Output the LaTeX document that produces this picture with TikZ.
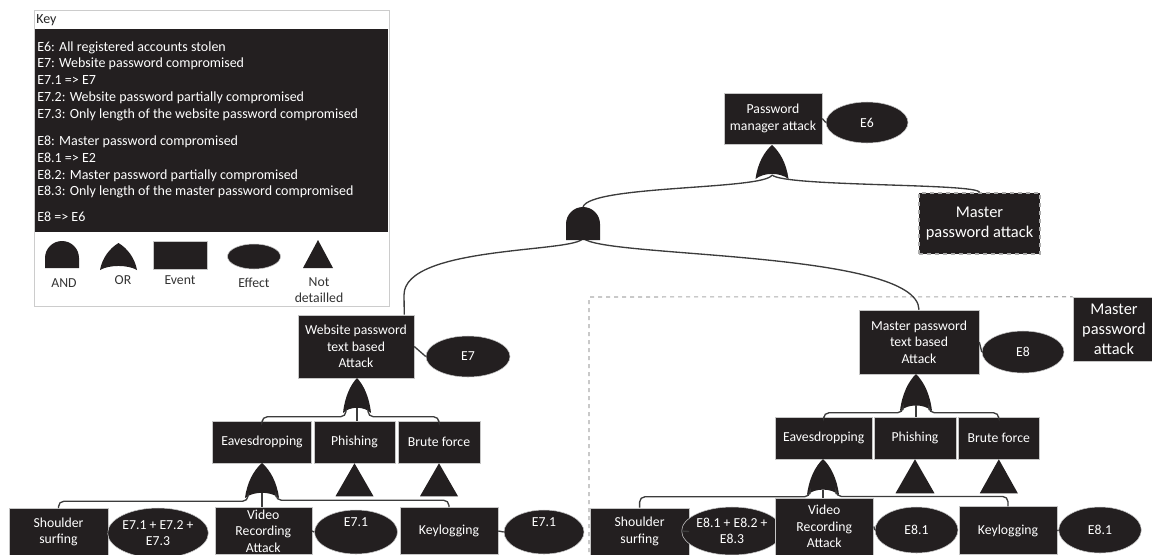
\documentclass[tikz,border=0pt]{standalone}
\usepackage{fontspec}
\setmainfont{Carlito}
\usetikzlibrary{calc,shapes.geometric}
\definecolor{boxblack}{RGB}{35,31,32}
\definecolor{linegray}{RGB}{60,60,60}
\tikzset{
 wh/.style 2 args={minimum width=#1*0.75pt, minimum height=#2*0.75pt},
 ev/.style={rectangle, fill=boxblack, draw=gray!45, line width=0.4pt, text=white, align=center, inner sep=1pt, font=\fontsize{10.3}{12.5}\selectfont},
 eff/.style={ellipse, fill=boxblack, draw=gray!45, line width=0.4pt, text=white, align=center, inner sep=0pt, font=\fontsize{10.3}{12.5}\selectfont},
 efftext/.style={text=white, inner sep=0pt, align=center, font=\fontsize{10.3}{12.5}\selectfont},
 conn/.style={draw=linegray, line width=1pt},
 bigtxt/.style={font=\fontsize{12.3}{15}\selectfont},
 keytxt/.style={text=white, anchor=base west, inner sep=0pt, font=\fontsize{10.5}{12.5}\selectfont},
 keylab/.style={text=black!80, inner sep=0pt, align=center, font=\fontsize{10.3}{12}\selectfont},
 regiondash/.style={draw=gray!65, dashed, line width=0.8pt},
}
\newcommand{\AndGate}[5]{%
 \pgfmathsetmacro\gtL{#2-#4/2}\pgfmathsetmacro\gtR{#2+#4/2}\pgfmathsetmacro\gtB{#3+#5}%
 \pgfmathsetmacro\gtM{#3+#4/2}\pgfmathsetmacro\gtK{#4/2*0.552}%
 \fill[boxblack] (\gtL,\gtB) -- (\gtL,\gtM) .. controls (\gtL,{\gtM-\gtK}) and ({#2-\gtK},#3) .. (#2,#3)
   .. controls ({#2+\gtK},#3) and (\gtR,{\gtM-\gtK}) .. (\gtR,\gtM) -- (\gtR,\gtB) -- cycle;
 \coordinate (#1-top) at (#2,#3); \coordinate (#1-bot) at (#2,\gtB);}
\newcommand{\OrGate}[5]{%
 \pgfmathsetmacro\gtL{#2-#4/2}\pgfmathsetmacro\gtR{#2+#4/2}\pgfmathsetmacro\gtB{#3+#5}%
 \fill[boxblack] (#2,#3) .. controls ({#2+0.24*#4},{#3+0.2*#5}) and ({#2+0.44*#4},{#3+0.55*#5}) .. (\gtR,\gtB)
   .. controls ({#2+0.25*#4},{#3+0.8*#5}) and ({#2-0.25*#4},{#3+0.8*#5}) .. (\gtL,\gtB)
   .. controls ({#2-0.44*#4},{#3+0.55*#5}) and ({#2-0.24*#4},{#3+0.2*#5}) .. cycle;
 \coordinate (#1-top) at (#2,#3); \coordinate (#1-bot) at (#2,{#3+0.85*#5});
 \coordinate (#1-bl) at ({\gtL+3},{\gtB-1}); \coordinate (#1-br) at ({\gtR-3},{\gtB-1});}
\begin{document}
\begin{tikzpicture}[x=0.75pt,y=-0.75pt]
\useasboundingbox (0,0) rectangle (1152,554);
\clip (0,0) rectangle (1152,554);
% ---------------- Key ----------------
\node[draw=gray!40, fill=white, line width=0.6pt, wh={355}{296}, inner sep=0] (keybox) at (211.5,158) {};
\node[fill=boxblack, wh={353}{203}, inner sep=0] (keyblack) at (211.5,130.5) {};
\node[keytxt, text=black!85] (keyhead) at (36,23.5) {Key};
\node[keytxt] (k1) at (37,51.3) {E6: All registered accounts stolen};
\node[keytxt] (k2) at (37,67.6) {E7: Website password compromised};
\node[keytxt] (k3) at (37,84.3) {E7.1 => E7};
\node[keytxt] (k4) at (37,101.3) {E7.2: Website password partially compromised};
\node[keytxt] (k5) at (37,118.3) {E7.3: Only length of the website password compromised};
\node[keytxt] (k6) at (37,145.3) {E8: Master password compromised};
\node[keytxt] (k7) at (37,162.3) {E8.1 => E2};
\node[keytxt] (k8) at (37,179.3) {E8.2: Master password partially compromised};
\node[keytxt] (k9) at (37,195.3) {E8.3: Only length of the master password compromised};
\node[keytxt] (k10) at (37,221.3) {E8 => E6};
\AndGate{kand}{62}{241}{34}{27}
\OrGate{kor}{118.5}{243}{37}{27}
\node[ev, wh={54}{28}] (kevent) at (180,255) {};
\node[eff, wh={53}{25}] (keffect) at (254,256.5) {};
\fill[boxblack] (303,268) -- (333,268) -- (318,240) -- cycle;
\node[keylab] (lAND) at (64,283) {AND};
\node[keylab] (lOR) at (123,280) {OR};
\node[keylab] (lEvent) at (180,280) {Event};
\node[keylab] (lEffect) at (254,283) {Effect};
\node[keylab] (lNot) at (319,290) {Not\\detailled};
% ---------------- Top ----------------
\node[ev, wh={98}{51}] (pma) at (773,118.5) {Password\\manager attack};
\node[eff, wh={82}{41}] (e6) at (867,122.5) {E6};
\node[ev, regiondash, fill=boxblack, wh={121}{61}, bigtxt] (mpa) at (979.5,223.5) {Master\\password attack};
\node[ev, wh={116}{63}] (wp) at (356,346.5) {Website password\\text based\\Attack};
\node[eff, wh={84}{41}] (e7) at (468,356.5) {E7};
\node[ev, wh={120}{64}] (mp) at (919,342) {Master password\\text based\\Attack};
\node[eff, wh={82}{42}] (e8) at (1023,352) {E8};
\node[ev, wh={82}{64}, bigtxt] (mpa2) at (1114,329) {Master\\password\\attack};
\draw[regiondash] (589,560) -- (589,297) -- (mpa2.north west);
\draw[conn] (pma.east) -- (e6.west);
\draw[conn] (wp.east) -- (e7.west);
\draw[conn] (mp.east) -- (e8.west);
\coordinate (g0b) at (772,175);
\coordinate (g1t) at (583,207);
\coordinate (g1b) at (583,238);
\draw[conn] (g0b) .. controls (765,190) and (590,185) .. (g1t);
\draw[conn] (g0b) .. controls (785,187) and (979.5,183) .. (mpa.north);
\coordinate (wpin) at ($(wp.north east)+(-10,0)$);
\draw[conn] (g1b) .. controls (578,253) and (404,245) .. (404,295) -- (wpin);
\draw[conn] (g1b) .. controls (600,258) and (918,250) .. (mp.north);
\OrGate{g0}{772}{145}{33}{34}
\AndGate{g1}{583}{207}{34}{33}
% ---------------- Left subtree ----------------
\node[ev, wh={99}{42}] (eavL) at (262,442) {Eavesdropping};
\node[ev, wh={81}{42}] (phL) at (354.5,442) {Phishing};
\node[ev, wh={82}{42}] (bfL) at (439,442) {Brute force};
\fill[boxblack] ($(phL.south)+(-19,33)$) -- ($(phL.south)+(19,33)$) -- (phL.south) -- cycle;
\fill[boxblack] ($(bfL.south)+(-19,33)$) -- ($(bfL.south)+(19,33)$) -- (bfL.south) -- cycle;
\OrGate{gL}{357}{378}{28}{35}
\draw[conn, rounded corners=4pt] (gL-bl) |- ($(eavL.north)+(0,-4)$) -- (eavL.north);
\draw[conn, rounded corners=4pt] (gL-br) |- ($(bfL.north)+(0,-4)$) -- (bfL.north);
\draw[conn] (gL-bot) -- (gL-bot |- phL.north);
\node[ev, wh={99}{47}] (ssL) at (58.5,532) {Shoulder\\surfing};
\node[eff, wh={94}{50}] (e7aL) at (158,533) {E7.1 + E7.2 +\\E7.3};
\node[ev, wh={97}{47}] (vrL) at (263.3,531) {Video\\Recording\\Attack};
\node[eff, wh={83}{44}] (e71L) at (356,532) {};
\node[efftext] (e71Lt) at (356,522) {E7.1};
\node[ev, wh={98}{47}] (kgL) at (449,531) {Keylogging};
\node[eff, wh={80}{44}] (e71L2) at (544,532) {};
\node[efftext] (e71L2t) at (544,522) {E7.1};
\draw[conn] (ssL.east) -- (e7aL.west);
\draw[conn] (vrL.east) -- (e71L.west);
\draw[conn] (kgL.east) -- (e71L2.west);
\OrGate{gLL}{262}{463}{34}{35}
\draw[conn, rounded corners=4pt] (gLL-bl) |- ($(ssL.north)+(0,-7)$) -- (ssL.north);
\draw[conn, rounded corners=4pt] (gLL-br) |- ($(kgL.north)+(0,-7)$) -- (kgL.north);
\draw[conn] (gLL-bot) -- (gLL-bot |- vrL.north);
% ---------------- Right subtree ----------------
\node[ev, wh={97.5}{42}] (eavR) at (823.7,438) {Eavesdropping};
\node[ev, wh={82}{42}] (phR) at (915,438) {Phishing};
\node[ev, wh={81.6}{42}] (bfR) at (998.8,438) {Brute force};
\fill[boxblack] ($(phR.south)+(-19.5,34)$) -- ($(phR.south)+(19.5,34)$) -- (phR.south) -- cycle;
\fill[boxblack] ($(bfR.south)+(-19,34)$) -- ($(bfR.south)+(19,34)$) -- (bfR.south) -- cycle;
\OrGate{gR}{916}{374}{32}{37}
\draw[conn, rounded corners=4pt] (gR-bl) |- ($(eavR.north)+(0,-4)$) -- (eavR.north);
\draw[conn, rounded corners=4pt] (gR-br) |- ($(bfR.north)+(0,-4)$) -- (bfR.north);
\draw[conn] (gR-bot) -- (gR-bot |- phR.north);
\node[ev, wh={98.4}{47}] (ssR) at (639.6,531.5) {Shoulder\\surfing};
\node[eff, wh={83}{48}] (e8aR) at (732,531) {E8.1 + E8.2 +\\E8.3};
\node[ev, wh={98.6}{57}] (vrR) at (824.3,526.5) {Video\\Recording\\Attack};
\node[eff, wh={83}{46}] (e81R) at (916.5,530) {E8.1};
\node[ev, wh={98}{48}] (kgR) at (1008,530.7) {Keylogging};
\node[eff, wh={82.6}{46}] (e81R2) at (1100,530) {E8.1};
\draw[conn] (ssR.east) -- (e8aR.west);
\draw[conn] (vrR.east) -- (e81R.west);
\draw[conn] (kgR.east) -- (e81R2.west);
\OrGate{gRR}{823}{459}{32}{36}
\draw[conn, rounded corners=4pt] (gRR-bl) |- ($(ssR.north)+(0,-11)$) -- (ssR.north);
\draw[conn, rounded corners=4pt] (gRR-br) |- ($(kgR.north)+(0,-10)$) -- (kgR.north);
\draw[conn] (gRR-bot) -- (gRR-bot |- vrR.north);
\end{tikzpicture}
\end{document}
